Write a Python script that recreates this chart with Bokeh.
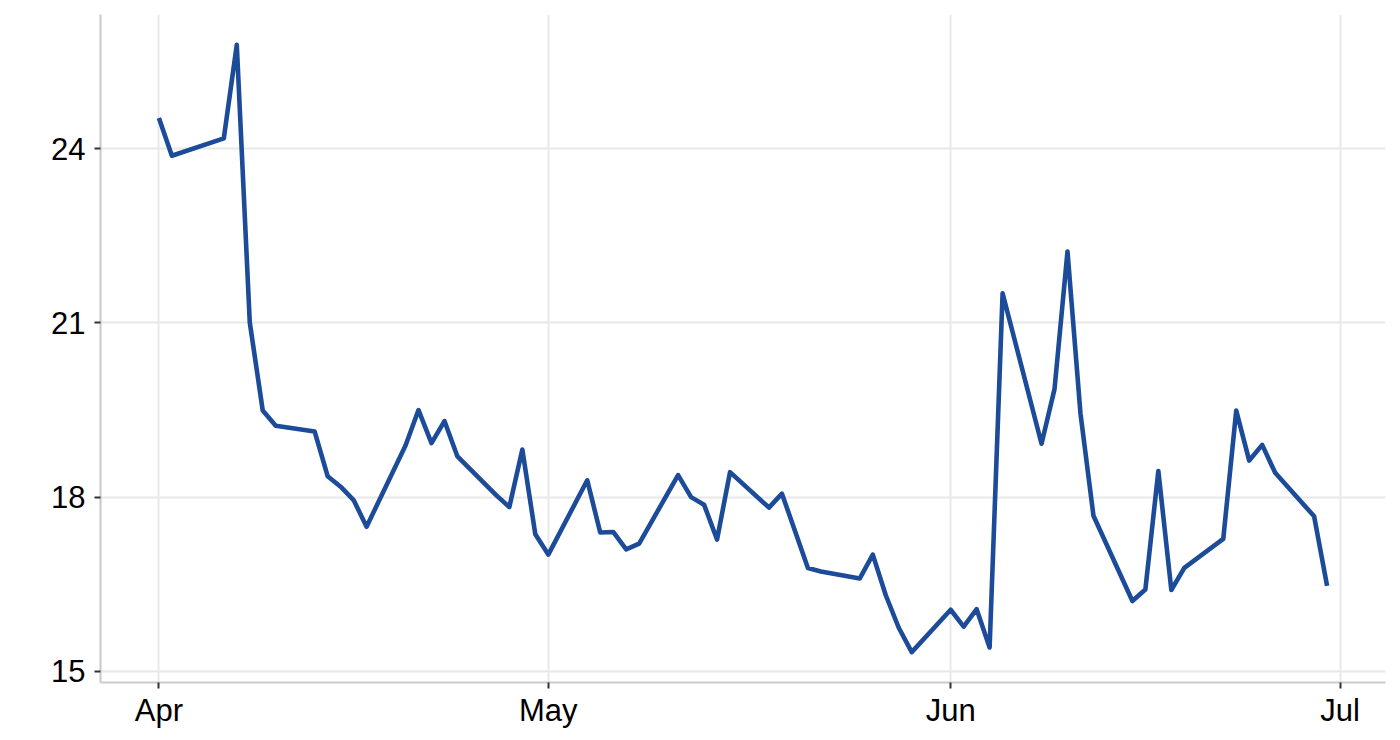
from datetime import datetime, timedelta
from bokeh.plotting import figure
from bokeh.models import Range1d, FixedTicker, DatetimeTickFormatter, ColumnDataSource
from bokeh.embed import file_html
from bokeh.resources import INLINE

dates = [
    "2015-04-01", "2015-04-02", "2015-04-06", "2015-04-07", "2015-04-08", "2015-04-09", "2015-04-10",
    "2015-04-13", "2015-04-14", "2015-04-15", "2015-04-16", "2015-04-17",
    "2015-04-20", "2015-04-21", "2015-04-22", "2015-04-23", "2015-04-24",
    "2015-04-27", "2015-04-28", "2015-04-29", "2015-04-30", "2015-05-01",
    "2015-05-04", "2015-05-05", "2015-05-06", "2015-05-07", "2015-05-08",
    "2015-05-11", "2015-05-12", "2015-05-13", "2015-05-14", "2015-05-15",
    "2015-05-18", "2015-05-19", "2015-05-20", "2015-05-21", "2015-05-22",
    "2015-05-25", "2015-05-26", "2015-05-27", "2015-05-28", "2015-05-29",
    "2015-06-01", "2015-06-02", "2015-06-03", "2015-06-04", "2015-06-05",
    "2015-06-08", "2015-06-09", "2015-06-10", "2015-06-11", "2015-06-12",
    "2015-06-15", "2015-06-16", "2015-06-17", "2015-06-18", "2015-06-19",
    "2015-06-22", "2015-06-23", "2015-06-24", "2015-06-25", "2015-06-26",
    "2015-06-29", "2015-06-30",
]
values = [
    24.53, 23.88, 24.18, 25.79, 21.01, 19.49, 19.23,
    19.13, 18.36, 18.18, 17.95, 17.49,
    18.89, 19.50, 18.93, 19.31, 18.70,
    18.03, 17.83, 18.82, 17.36, 17.01,
    18.29, 17.39, 17.40, 17.10, 17.20,
    18.38, 18.00, 17.87, 17.27, 18.43,
    17.82, 18.06, 17.42, 16.78, 16.72,
    16.60, 17.01, 16.31, 15.75, 15.33,
    16.06, 15.77, 16.07, 15.41, 21.51,
    18.92, 19.86, 22.23, 19.44, 17.68,
    16.21, 16.41, 18.45, 16.40, 16.78,
    17.28, 19.49, 18.63, 18.90, 18.42,
    17.67, 16.47,
]
x_ticks = ["2015-04-01", "2015-05-01", "2015-06-01", "2015-07-01"]
y_ticks = [15, 18, 21, 24]

xs = [datetime.strptime(d, "%Y-%m-%d") for d in dates]
src = ColumnDataSource(dict(x=xs, y=values))

span = xs[-1] - xs[0]
pad = span * 0.05
ymin, ymax = min(values), max(values)
ypad = (ymax - ymin) * 0.05

p = figure(width=1392, height=732, x_axis_type="datetime",
           output_backend="svg", toolbar_location=None,
           x_range=Range1d(xs[0] - pad, xs[-1] + pad),
           y_range=Range1d(ymin - ypad, ymax + ypad))
p.min_border_left = 100
p.min_border_right = 7
p.min_border_top = 14
p.min_border_bottom = 50
p.outline_line_color = None
p.background_fill_color = "white"
p.border_fill_color = "white"

p.line("x", "y", source=src, line_color="#1C4B9A", line_width=4.6, line_join="round")

tick_ms = [datetime.strptime(t, "%Y-%m-%d").timestamp() * 1000 for t in x_ticks]
p.xaxis.ticker = FixedTicker(ticks=tick_ms)
fmt = "%b"
p.xaxis.formatter = DatetimeTickFormatter(
    milliseconds=fmt, seconds=fmt, minsec=fmt, minutes=fmt, hourmin=fmt, hours=fmt,
    days=fmt, months=fmt, years=fmt)
p.yaxis.ticker = FixedTicker(ticks=y_ticks)

for ax in (p.xaxis[0], p.yaxis[0]):
    ax.axis_line_color = "#CCCCCC"
    ax.axis_line_width = 2.2
    ax.major_tick_line_color = "#333333"
    ax.major_tick_line_width = 2
    ax.major_tick_in = 0
    ax.major_tick_out = 6
    ax.minor_tick_line_color = None
    ax.major_label_text_font = "Liberation Sans"
    ax.major_label_text_font_size = "31px"
    ax.major_label_text_color = "black"
p.yaxis.major_label_standoff = 9
p.xaxis.major_label_standoff = 4

p.xgrid.grid_line_color = "#E8E8E8"
p.ygrid.grid_line_color = "#E8E8E8"
p.xgrid.grid_line_width = 2
p.ygrid.grid_line_width = 2

open("out.html", "w").write(file_html(p, INLINE))
